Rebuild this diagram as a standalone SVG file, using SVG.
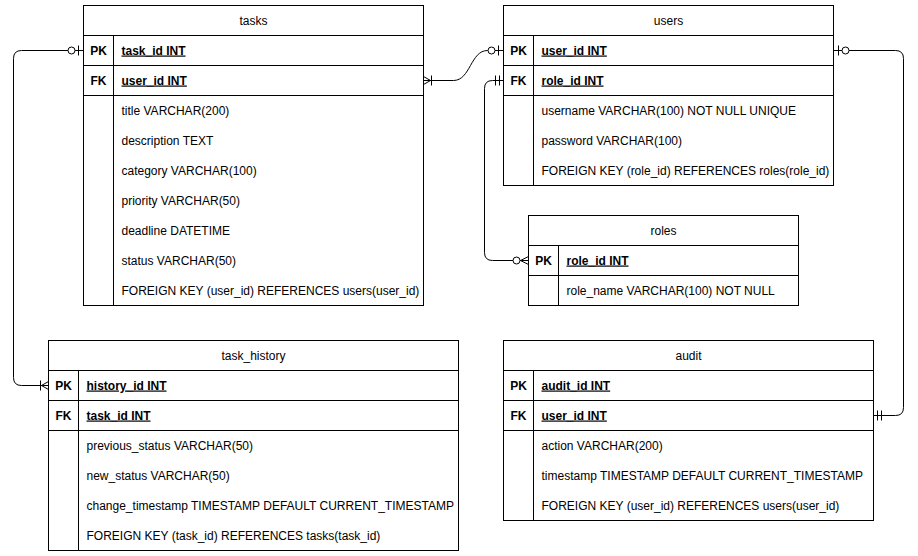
<svg xmlns="http://www.w3.org/2000/svg" xmlns:xlink="http://www.w3.org/1999/xlink" width="918" height="556" viewBox="0 0 918 556">
<style>
text{font-family:"Liberation Sans",Arial,Helvetica,sans-serif;font-size:12px;fill:#000}
.h{text-anchor:middle}
.k{font-weight:bold;text-anchor:middle}
.f{font-weight:bold;text-decoration:underline}
.box{fill:#fff;stroke:#000;stroke-width:1}
.ln{stroke:#000;stroke-width:1;fill:none}
.conn path{stroke:#000;stroke-width:1;fill:none}
</style>
<defs>
<g id="zeroOne"><path class="ln" d="M5 -5V5"/><circle cx="12" cy="0" r="3.5" fill="#fff" stroke="#000"/></g>
<g id="mandOne"><path class="ln" d="M4 -5V5M8 -5V5"/></g>
<g id="oneMany"><path class="ln" d="M0 -4L7 0L0 4M8 -5V5"/></g>
<g id="zeroMany"><path class="ln" d="M0 -4L8 0L0 4"/><circle cx="12" cy="0" r="3.5" fill="#fff" stroke="#000"/></g>
</defs>
<rect width="918" height="556" fill="#fff"/>

<g id="connectors" class="conn" transform="translate(0.5,0.5)">
<path d="M83 50H21Q13 50 13 58V377Q13 385 21 385H48"/>
<path d="M423 80H453C470 80 470 50 487 50H503"/>
<path d="M503 80H492Q484 80 484 88V252Q484 260 492 260H528"/>
<path d="M833 50H895Q903 50 903 58V407Q903 415 895 415H873"/>
<use href="#zeroOne" transform="translate(83,50) scale(-1,1)"/>
<use href="#oneMany" transform="translate(48,385) scale(-1,1)"/>
<use href="#oneMany" transform="translate(423,80)"/>
<use href="#zeroOne" transform="translate(503,50) scale(-1,1)"/>
<use href="#mandOne" transform="translate(503,80) scale(-1,1)"/>
<use href="#zeroMany" transform="translate(528,260) scale(-1,1)"/>
<use href="#zeroOne" transform="translate(833,50)"/>
<use href="#mandOne" transform="translate(873,415)"/>
</g>

<g id="tasks" transform="translate(0.5,0.5)">
<rect class="box" x="83" y="5" width="340" height="300"/>
<path class="ln" d="M83 35H423M83 65H423M83 95H423M113 35V305"/>
<text class="h" x="253" y="24">tasks</text>
<text class="k" x="98" y="54">PK</text><text class="f" x="121" y="54">task_id INT</text>
<text class="k" x="98" y="84">FK</text><text class="f" x="121" y="84">user_id INT</text>
<text x="121" y="114">title VARCHAR(200)</text>
<text x="121" y="144">description TEXT</text>
<text x="121" y="174">category VARCHAR(100)</text>
<text x="121" y="204">priority VARCHAR(50)</text>
<text x="121" y="234">deadline DATETIME</text>
<text x="121" y="264">status VARCHAR(50)</text>
<text x="121" y="294">FOREIGN KEY (user_id) REFERENCES users(user_id)</text>
</g>

<g id="users" transform="translate(0.5,0.5)">
<rect class="box" x="503" y="5" width="330" height="180"/>
<path class="ln" d="M503 35H833M503 65H833M503 95H833M533 35V185"/>
<text class="h" x="668" y="24">users</text>
<text class="k" x="518" y="54">PK</text><text class="f" x="541" y="54">user_id INT</text>
<text class="k" x="518" y="84">FK</text><text class="f" x="541" y="84">role_id INT</text>
<text x="541" y="114">username VARCHAR(100) NOT NULL UNIQUE</text>
<text x="541" y="144">password VARCHAR(100)</text>
<text x="541" y="174">FOREIGN KEY (role_id) REFERENCES roles(role_id)</text>
</g>

<g id="roles" transform="translate(0.5,0.5)">
<rect class="box" x="528" y="215" width="270" height="90"/>
<path class="ln" d="M528 245H798M528 275H798M558 245V305"/>
<text class="h" x="663" y="234">roles</text>
<text class="k" x="543" y="264">PK</text><text class="f" x="566" y="264">role_id INT</text>
<text x="566" y="294">role_name VARCHAR(100) NOT NULL</text>
</g>

<g id="task_history" transform="translate(0.5,0.5)">
<rect class="box" x="48" y="340" width="410" height="210"/>
<path class="ln" d="M48 370H458M48 400H458M48 430H458M78 370V550"/>
<text class="h" x="253" y="359">task_history</text>
<text class="k" x="63" y="389">PK</text><text class="f" x="86" y="389">history_id INT</text>
<text class="k" x="63" y="419">FK</text><text class="f" x="86" y="419">task_id INT</text>
<text x="86" y="449">previous_status VARCHAR(50)</text>
<text x="86" y="479">new_status VARCHAR(50)</text>
<text x="86" y="509">change_timestamp TIMESTAMP DEFAULT CURRENT_TIMESTAMP</text>
<text x="86" y="539">FOREIGN KEY (task_id) REFERENCES tasks(task_id)</text>
</g>

<g id="audit" transform="translate(0.5,0.5)">
<rect class="box" x="503" y="340" width="370" height="180"/>
<path class="ln" d="M503 370H873M503 400H873M503 430H873M533 370V520"/>
<text class="h" x="688" y="359">audit</text>
<text class="k" x="518" y="389">PK</text><text class="f" x="541" y="389">audit_id INT</text>
<text class="k" x="518" y="419">FK</text><text class="f" x="541" y="419">user_id INT</text>
<text x="541" y="449">action VARCHAR(200)</text>
<text x="541" y="479">timestamp TIMESTAMP DEFAULT CURRENT_TIMESTAMP</text>
<text x="541" y="509">FOREIGN KEY (user_id) REFERENCES users(user_id)</text>
</g>
</svg>
